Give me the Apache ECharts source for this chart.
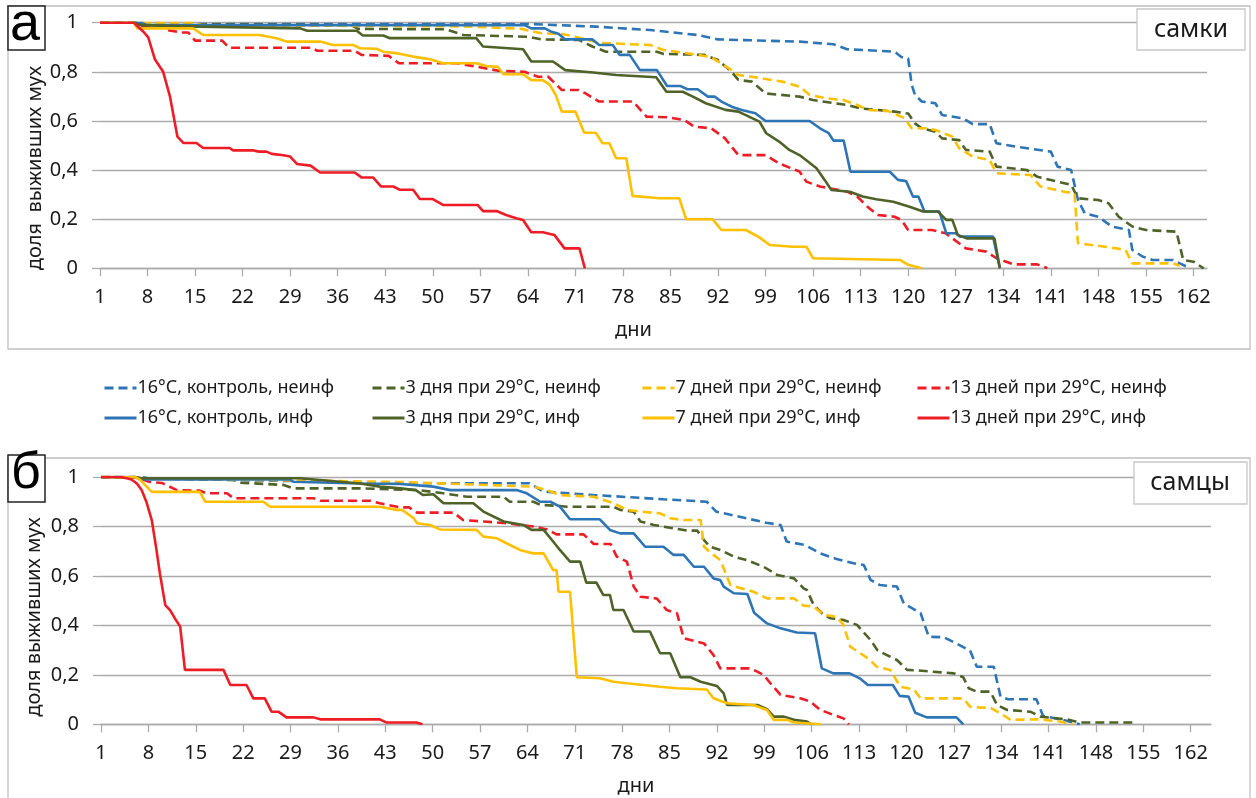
<!DOCTYPE html>
<html>
<head>
<meta charset="utf-8">
<script src="https://cdn.jsdelivr.net/npm/echarts@6/dist/echarts.min.js"></script>
<style>
  html, body { margin: 0; padding: 0; background: #fff; }
  #chart { width: 1256px; height: 798px; }
</style>
</head>
<body>
<div id="chart"></div>
<script>
// подписи оси X (дни)
var xTickDays = [1, 8, 15, 22, 29, 36, 43, 50, 57, 64, 71, 78, 85, 92, 99, 106, 113, 120, 127, 134, 141, 148, 155, 162];
var yTicks = [0, 0.2, 0.4, 0.6, 0.8, 1];

var names = ['16°C, контроль, неинф', '3 дня при 29°C, неинф', '7 дней при 29°C, неинф', '13 дней при 29°C, неинф',
             '16°C, контроль, инф', '3 дня при 29°C, инф', '7 дней при 29°C, инф', '13 дней при 29°C, инф'];

// а - самки: [день, доля выживших]
var fCtrlNeinf = [[1,1],[7,1],[8,0.995],[64,0.995],[74,0.984],[82,0.97],[89,0.95],[92,0.932],[104,0.923],[109,0.912],[111,0.892],[118,0.882],[119,0.86],[120,0.855],[120.5,0.75],[121,0.706],[122,0.679],[124,0.672],[125,0.624],[128,0.611],[129.5,0.587],[132,0.587],[133,0.509],[136,0.495],[141,0.475],[142,0.414],[144,0.4],[145,0.278],[146,0.224],[148,0.21],[150,0.17],[152.5,0.156],[153,0.075],[154.5,0.048],[156,0.034],[159,0.034],[160,0.02],[161,0.007]];
var fD3Neinf = [[1,1],[7,1],[8,0.995],[38,0.99],[39,0.975],[52,0.973],[54.5,0.95],[64,0.943],[66,0.932],[71.5,0.93],[73.5,0.903],[75.5,0.882],[83,0.882],[84,0.873],[90,0.869],[92,0.848],[94,0.8],[95,0.767],[97,0.76],[99,0.712],[104,0.699],[106,0.685],[111,0.665],[113,0.651],[118,0.638],[120,0.63],[121,0.59],[122,0.57],[124,0.556],[125,0.529],[127.5,0.522],[128.5,0.482],[132,0.475],[133,0.414],[137.5,0.4],[139,0.373],[142,0.353],[144,0.34],[145,0.285],[148,0.278],[149.5,0.265],[151,0.21],[153,0.17],[155,0.156],[159.5,0.149],[160.5,0.034],[162,0.027],[163.5,0]];
var fD7Neinf = [[1,1],[15,1],[16,0.99],[55,0.985],[63,0.975],[66,0.957],[69,0.954],[71,0.943],[74.5,0.918],[82,0.909],[84,0.889],[89,0.869],[91,0.86],[94,0.807],[95,0.787],[97,0.78],[101.5,0.76],[104,0.74],[105.5,0.706],[108,0.692],[110.5,0.685],[112.5,0.665],[114,0.645],[117,0.641],[119.5,0.611],[120.5,0.57],[122.5,0.57],[124,0.563],[126.5,0.536],[127.5,0.489],[129.5,0.455],[132,0.441],[133,0.387],[138,0.38],[139.5,0.333],[143,0.312],[144.5,0.305],[145,0.102],[149,0.088],[152,0.075],[153,0.02],[159,0.02],[160,0.01]];
var fD13Neinf = [[1,1],[6,1],[7,0.985],[10,0.985],[11,0.97],[13,0.96],[14,0.96],[15,0.927],[19,0.927],[20,0.898],[32,0.898],[33,0.886],[38.5,0.886],[39.5,0.869],[43.5,0.865],[45,0.835],[53.5,0.835],[56.5,0.821],[59.5,0.805],[63.5,0.8],[65.5,0.78],[67,0.78],[69,0.726],[71.5,0.726],[72.5,0.712],[74.5,0.679],[79.5,0.679],[81.5,0.617],[84.5,0.615],[87,0.604],[88.5,0.577],[91,0.57],[93,0.53],[94,0.495],[95,0.461],[99,0.461],[101,0.427],[104,0.394],[105,0.353],[107,0.333],[111,0.312],[112.5,0.292],[114,0.251],[115.5,0.217],[118,0.21],[119,0.197],[120,0.156],[123.5,0.156],[125.5,0.143],[128.5,0.081],[131.5,0.068],[133,0.041],[135.5,0.016],[139,0.016],[140.5,0]];
var fCtrlInf = [[1,1],[7,1],[8,0.99],[63.5,0.99],[64.5,0.977],[66.5,0.977],[67.5,0.963],[68.5,0.955],[69.5,0.932],[73.5,0.932],[74.5,0.909],[76.5,0.909],[77.5,0.869],[79,0.869],[80.5,0.807],[83,0.807],[84.5,0.742],[86.5,0.742],[87.5,0.729],[89,0.729],[90.5,0.699],[91.5,0.699],[92.5,0.679],[94,0.658],[95.5,0.645],[97.5,0.631],[99,0.6],[105.5,0.6],[107,0.57],[108.3,0.55],[109,0.52],[110.5,0.52],[111.5,0.393],[117.3,0.393],[118.5,0.36],[119.7,0.355],[120.7,0.292],[121.5,0.292],[122.4,0.231],[124.6,0.231],[125.6,0.143],[127,0.143],[127.6,0.129],[132.5,0.129],[133.5,0]];
var fD3Inf = [[1,1],[6,1],[7,0.99],[15.5,0.984],[30.5,0.977],[31.5,0.967],[38.8,0.967],[39.7,0.948],[42.7,0.948],[43.7,0.937],[56.4,0.937],[57.4,0.903],[63.3,0.892],[64.5,0.842],[67.7,0.842],[69.5,0.807],[73.6,0.797],[77,0.787],[82.9,0.778],[84.4,0.719],[86.8,0.719],[88.3,0.699],[90.2,0.672],[93.1,0.645],[95,0.638],[98.1,0.597],[99.1,0.55],[101,0.516],[102.5,0.482],[104,0.461],[105,0.44],[106.5,0.407],[107.7,0.36],[108.7,0.319],[111.4,0.312],[113.3,0.292],[115.3,0.281],[117.8,0.271],[120.2,0.251],[122.2,0.231],[124.4,0.231],[125.6,0.197],[126.5,0.197],[127.3,0.136],[128.6,0.122],[132.7,0.122],[133.5,0]];
var fD7Inf = [[1,1],[6,1],[6.5,0.977],[14.7,0.977],[16.2,0.95],[24.5,0.95],[27,0.937],[28.5,0.923],[33.4,0.923],[35.3,0.909],[38.3,0.909],[39.3,0.896],[41.7,0.894],[42.7,0.882],[44.9,0.875],[47.1,0.862],[49.6,0.851],[51.5,0.835],[56.4,0.835],[57.9,0.824],[59.6,0.82],[60.4,0.79],[63.3,0.79],[64.5,0.766],[66.2,0.766],[67.2,0.748],[68.1,0.706],[69,0.638],[71,0.638],[72.3,0.552],[74,0.552],[75,0.509],[76,0.509],[77,0.448],[78.5,0.448],[79.4,0.295],[83.4,0.285],[86.3,0.285],[87.3,0.2],[91.2,0.2],[92.5,0.156],[96.1,0.156],[98.1,0.126],[99.6,0.095],[103,0.088],[105,0.088],[106,0.041],[118.8,0.034],[120,0.014],[122,0]];
var fD13Inf = [[1,1],[6,1],[7.4,0.963],[8.1,0.94],[9.1,0.85],[10.3,0.8],[11.3,0.7],[12.4,0.536],[13.3,0.51],[15.2,0.51],[16.2,0.49],[20.1,0.49],[20.6,0.48],[23.6,0.48],[24.4,0.475],[25.5,0.475],[26.3,0.466],[28,0.46],[29,0.455],[30,0.425],[32,0.418],[33.4,0.39],[38.5,0.39],[39.5,0.37],[41.2,0.37],[42.4,0.333],[44.2,0.333],[45.1,0.32],[47.1,0.32],[48.1,0.282],[50,0.282],[51.5,0.258],[56.6,0.258],[57.4,0.233],[59.4,0.233],[60.8,0.217],[62.3,0.204],[63.3,0.197],[64.5,0.147],[66.2,0.147],[67.9,0.136],[69.4,0.081],[71.6,0.081],[72.4,0]];

// б - самцы
var mCtrlNeinf = [[1,1],[7,1],[8,0.995],[45,0.975],[64.3,0.975],[66.4,0.941],[73.8,0.927],[84.1,0.91],[90.5,0.9],[91.9,0.86],[99.3,0.815],[101.4,0.806],[102.3,0.739],[105,0.725],[107.3,0.691],[109.7,0.668],[112.2,0.651],[113.7,0.644],[114.7,0.584],[116.1,0.563],[118.6,0.557],[119.6,0.489],[122.1,0.449],[123.3,0.354],[125.5,0.352],[127.5,0.325],[129.4,0.298],[130.4,0.233],[132.9,0.233],[133.9,0.112],[135,0.101],[139.2,0.101],[140.2,0.034],[143.1,0.018],[145.6,0]];
var mD3Neinf = [[1,1],[6,1],[7,0.995],[20.6,0.988],[21.5,0.977],[28,0.968],[29.4,0.954],[39.3,0.954],[48,0.947],[51.6,0.934],[55.1,0.92],[60.5,0.92],[61.4,0.9],[64.9,0.9],[65.9,0.887],[68.8,0.883],[69.8,0.88],[76.7,0.88],[77.7,0.867],[79.7,0.86],[80.7,0.82],[82.7,0.806],[87.6,0.783],[89.1,0.783],[90.1,0.745],[91,0.718],[92.5,0.705],[94.5,0.678],[96.4,0.664],[98.9,0.637],[100.9,0.604],[103.4,0.59],[104.8,0.55],[105.3,0.543],[106.3,0.482],[107.8,0.442],[108.8,0.429],[110.7,0.422],[112.7,0.402],[114.7,0.341],[115.7,0.3],[116.6,0.287],[118.6,0.26],[120.1,0.22],[121.5,0.218],[127,0.206],[128.4,0.19],[129.2,0.146],[130.4,0.132],[132.4,0.132],[133.4,0.078],[134.9,0.058],[138.3,0.051],[139.8,0.031],[143.7,0.02],[145.6,0.007],[153.5,0.007],[154,0]];
var mD7Neinf = [[1,1],[6,1],[7,0.995],[45,0.98],[64.9,0.961],[66.9,0.947],[68.8,0.927],[73.8,0.92],[76.7,0.894],[78.7,0.867],[80.7,0.86],[83.6,0.853],[85.1,0.833],[87.1,0.826],[89.6,0.826],[90.1,0.718],[91.5,0.685],[92.5,0.664],[94,0.563],[97.4,0.536],[99.4,0.509],[103.4,0.509],[104.8,0.48],[106.3,0.476],[107.8,0.442],[109.7,0.435],[110.7,0.402],[111.7,0.314],[113.6,0.28],[114.6,0.26],[115.6,0.233],[117.6,0.22],[119.1,0.152],[121.1,0.141],[122.1,0.105],[128.4,0.105],[129.4,0.071],[132.5,0.065],[133.9,0.044],[135.4,0.018],[139.8,0.02],[142.7,0.011],[144.6,0]];
var mD13Neinf = [[1,1],[6,1],[8.2,0.98],[10,0.976],[12.2,0.947],[14.6,0.945],[15.6,0.945],[16.6,0.934],[19.6,0.934],[20.6,0.914],[32.4,0.914],[33.4,0.904],[40.8,0.904],[42.2,0.894],[45.2,0.877],[46.5,0.877],[47.7,0.856],[53.1,0.856],[54.5,0.826],[57.5,0.82],[60.9,0.813],[64.9,0.8],[66.9,0.788],[68.3,0.768],[72.3,0.768],[73.8,0.729],[76.3,0.729],[77.2,0.678],[78.7,0.658],[79.7,0.557],[80.7,0.516],[83.1,0.509],[84.6,0.462],[86.1,0.449],[87.1,0.348],[88.1,0.341],[90.1,0.327],[91.5,0.28],[92.5,0.226],[97,0.226],[98.9,0.2],[99.9,0.166],[101.4,0.119],[104.3,0.105],[105.8,0.092],[107.3,0.058],[109.2,0.038],[110.7,0.024],[111.5,0]];
var mCtrlInf = [[1,1],[6,1],[7,0.99],[28.9,0.99],[29.4,0.981],[39.3,0.974],[45.2,0.972],[50.1,0.961],[52.6,0.947],[62.4,0.947],[63.9,0.934],[65.9,0.9],[67.4,0.9],[68.8,0.88],[70.3,0.829],[74.7,0.829],[76.2,0.786],[77.7,0.772],[79.7,0.772],[81.4,0.718],[84.1,0.718],[85.6,0.685],[87.1,0.685],[88.6,0.637],[90.1,0.637],[91.5,0.59],[92.5,0.583],[93,0.557],[94.5,0.53],[96.5,0.527],[97.5,0.451],[99.4,0.408],[101.4,0.388],[103.8,0.371],[106.5,0.368],[107.5,0.226],[109.2,0.206],[111.6,0.206],[113.1,0.186],[114.3,0.159],[118,0.159],[119,0.115],[120.3,0.112],[121.3,0.047],[123,0.028],[127.4,0.028],[128.4,0]];
var mD3Inf = [[1,1],[6,1],[7,0.995],[30.4,0.995],[39.3,0.974],[42.2,0.961],[45.2,0.954],[47.5,0.947],[48.6,0.927],[50.1,0.93],[51.6,0.894],[56,0.894],[57.5,0.86],[60.5,0.82],[63.4,0.806],[64.6,0.786],[66.4,0.786],[67.8,0.739],[68.8,0.705],[70.3,0.658],[71.8,0.658],[72.7,0.573],[74.2,0.573],[75.2,0.523],[76.2,0.523],[76.7,0.462],[78.2,0.462],[79.7,0.375],[82.1,0.375],[83.6,0.287],[85.1,0.287],[86.6,0.19],[88.1,0.19],[89.6,0.172],[92,0.155],[93,0.125],[93.5,0.078],[98,0.078],[99.4,0.061],[100.4,0.031],[101.9,0.031],[103.4,0.018],[105.3,0.011],[106,0]];
var mD7Inf = [[1,1],[6,1],[6.8,0.988],[8.5,0.94],[15.6,0.94],[16.4,0.9],[25,0.9],[26,0.88],[42.2,0.88],[44.7,0.867],[45.5,0.867],[47.2,0.833],[47.7,0.813],[49.6,0.806],[51.1,0.788],[56.5,0.786],[57.5,0.759],[59.5,0.752],[60.9,0.732],[62.9,0.705],[64.9,0.691],[66.4,0.691],[67.8,0.624],[68.3,0.624],[68.6,0.536],[70.3,0.536],[71.3,0.19],[74.7,0.186],[76.7,0.172],[78.7,0.166],[83.6,0.152],[86.1,0.146],[90.5,0.141],[91.5,0.105],[93.5,0.085],[97.4,0.078],[99.4,0.058],[100.4,0.018],[102.4,0.018],[103.4,0.007],[107.4,0]];
var mD13Inf = [[1,1],[3.8,1],[4.8,0.995],[5.5,0.99],[6.3,0.974],[7,0.947],[7.7,0.9],[8.5,0.826],[9.2,0.705],[9.7,0.61],[10.5,0.482],[11.2,0.462],[11.9,0.429],[12.7,0.395],[13.4,0.22],[19.1,0.22],[20.1,0.159],[22.5,0.159],[23.5,0.105],[25.2,0.105],[26.2,0.051],[27.2,0.051],[28.4,0.028],[32.4,0.028],[33.4,0.02],[42.2,0.02],[43.2,0.007],[47.6,0.007],[48.5,0]];

var colors = ['#2E75B6', '#4F6228', '#FFC000', '#EE1C25'];
var gridColor = '#ABABAB';
var fontFam = '"Noto Sans", "Open Sans", sans-serif';

var chart = echarts.init(document.getElementById('chart'));

function mkSeries(name, data, color, dashed, idx) {
    return {
        name: name,
        type: 'line',
        xAxisIndex: idx,
        yAxisIndex: idx,
        data: data,
        symbol: 'none',
        showSymbol: false,
        animation: false,
        z: dashed ? 2 : 3,
        itemStyle: { color: color },
        lineStyle: { color: color, width: 2.6, type: dashed ? [9, 5] : 'solid' }
    };
}

function mkX(idx, maxDay) {
    return {
        type: 'value',
        gridIndex: idx,
        min: 1,
        max: maxDay,
        name: 'дни',
        nameLocation: 'middle',
        nameGap: 52,
        nameTextStyle: { fontSize: 20, color: '#1a1a1a', fontFamily: fontFam, padding: [0, 40, 0, 0] },
        axisLine: { lineStyle: { color: gridColor, width: 1.3 } },
        axisTick: { show: true, length: 8, customValues: xTickDays, lineStyle: { color: gridColor, width: 1.3 } },
        axisLabel: { customValues: xTickDays, fontSize: 20, color: '#1a1a1a', fontFamily: fontFam, margin: 19 },
        splitLine: { show: false }
    };
}

function mkY(idx) {
    return {
        type: 'value',
        gridIndex: idx,
        min: 0,
        max: 1,
        interval: 0.2,
        axisLine: { show: false },
        axisTick: { show: true, length: 8, lineStyle: { color: gridColor, width: 1.3 } },
        axisLabel: {
            fontSize: 20, color: '#1a1a1a', fontFamily: fontFam, margin: 22,
            formatter: function (v) {
                if (v === 0 || v === 1) return String(v);
                return v.toFixed(1).replace('.', ',');
            }
        },
        splitLine: { show: true, lineStyle: { color: gridColor, width: 1.3 } }
    };
}

var femaleData = [fCtrlNeinf, fD3Neinf, fD7Neinf, fD13Neinf, fCtrlInf, fD3Inf, fD7Inf, fD13Inf];
var maleData = [mCtrlNeinf, mD3Neinf, mD7Neinf, mD13Neinf, mCtrlInf, mD3Inf, mD7Inf, mD13Inf];

var series = [];
for (var i = 0; i < 8; i++) {
    series.push(mkSeries(names[i], femaleData[i], colors[i % 4], i < 4, 0));
}
for (var i = 0; i < 8; i++) {
    series.push(mkSeries(names[i], maleData[i], colors[i % 4], i < 4, 1));
}

var legendLefts = [98, 366, 636, 911];
var legends = [];
for (var k = 0; k < 4; k++) {
    legends.push({
        orient: 'vertical',
        left: legendLefts[k],
        top: 374,
        itemWidth: 32,
        itemHeight: 14,
        itemGap: 12,
        selectedMode: false,
        itemStyle: { opacity: 0 },
        lineStyle: { width: 3 },
        textStyle: { fontSize: 18, color: '#1a1a1a', fontFamily: fontFam, padding: [0, 0, 0, -4] },
        data: [names[k], names[k + 4]]
    });
}

var option = {
    backgroundColor: '#fff',
    animation: false,
    grid: [
        { left: 100, right: 49, top: 22.7, height: 245.6 },
        { left: 101, right: 45, top: 477, height: 247.3 }
    ],
    xAxis: [mkX(0, 164), mkX(1, 165)],
    yAxis: [mkY(0), mkY(1)],
    legend: legends,
    graphic: [
        { type: 'rect', z: 0, shape: { x: 8, y: 6, width: 1242, height: 343 }, style: { fill: 'none', stroke: '#C0C0C0', lineWidth: 1.3 } },
        { type: 'rect', z: 0, shape: { x: 8, y: 458, width: 1242, height: 360 }, style: { fill: 'none', stroke: '#C0C0C0', lineWidth: 1.3 } },
        // подписи оси Y
        { type: 'text', z: 5, x: 35, y: 168, rotation: Math.PI / 2, style: { text: 'доля  выживших мух', fontSize: 20, fill: '#1a1a1a', fontFamily: fontFam, align: 'center', verticalAlign: 'middle' } },
        { type: 'text', z: 5, x: 34, y: 617, rotation: Math.PI / 2, style: { text: 'доля выживших мух', fontSize: 20, fill: '#1a1a1a', fontFamily: fontFam, align: 'center', verticalAlign: 'middle' } },
        { type: 'rect', z: 100, shape: { x: 8, y: 6, width: 37, height: 44 }, style: { fill: '#fff', stroke: '#222', lineWidth: 1.5 } },
        { type: 'text', z: 101, left: 10, top: -2, style: { text: 'а', fontSize: 54, fill: '#000', fontFamily: '"Liberation Sans", Arial, sans-serif' } },
        { type: 'rect', z: 100, shape: { x: 8, y: 455, width: 37, height: 47 }, style: { fill: '#fff', stroke: '#222', lineWidth: 1.5 } },
        { type: 'text', z: 101, left: 11, top: 448, style: { text: 'б', fontSize: 52, fill: '#000', fontFamily: '"Liberation Sans", Arial, sans-serif' } },
        { type: 'rect', z: 100, shape: { x: 1137, y: 9, width: 108, height: 41 }, style: { fill: '#fff', stroke: '#C8C8C8', lineWidth: 1.3 } },
        { type: 'text', z: 101, x: 1191, y: 30, style: { text: 'самки', fontSize: 25, fill: '#1a1a1a', fontFamily: fontFam, align: 'center', verticalAlign: 'middle' } },
        { type: 'rect', z: 100, shape: { x: 1134, y: 462, width: 113, height: 42 }, style: { fill: '#fff', stroke: '#C8C8C8', lineWidth: 1.3 } },
        { type: 'text', z: 101, x: 1190, y: 483, style: { text: 'самцы', fontSize: 25, fill: '#1a1a1a', fontFamily: fontFam, align: 'center', verticalAlign: 'middle' } }
    ],
    series: series
};

chart.setOption(option);
</script>
</body>
</html>
